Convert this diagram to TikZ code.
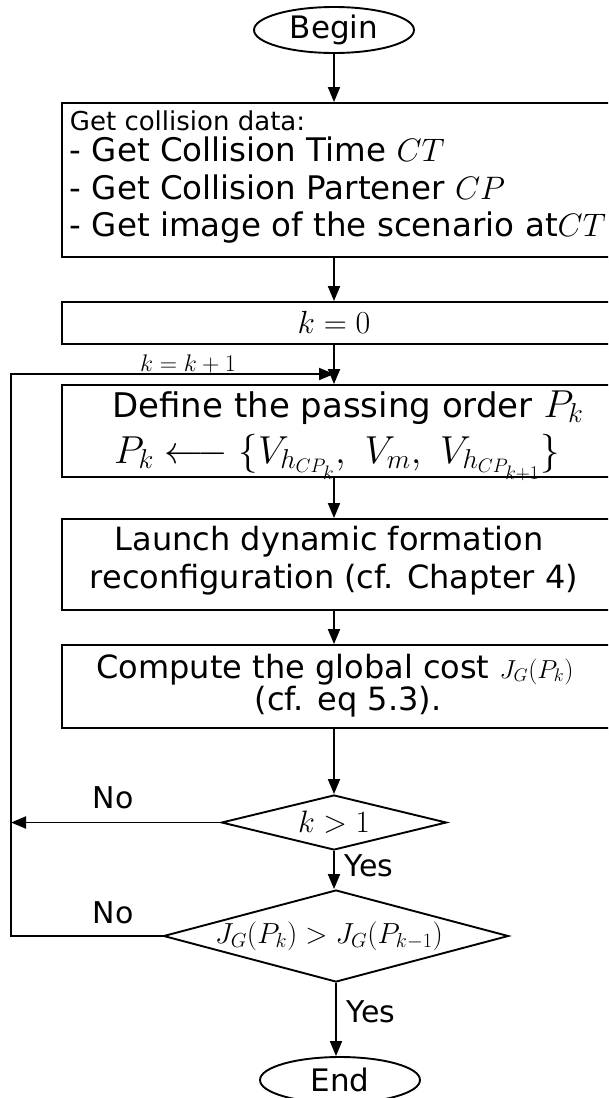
\RequirePackage{fix-cm}
\documentclass[tikz,border=0pt]{standalone}
\usepackage[no-math]{fontspec}
\setmainfont{DejaVu Sans}
\usetikzlibrary{shapes.geometric,arrows.meta}
\newcommand{\fsz}[2]{\fontsize{#1pt}{#2pt}\selectfont}
\begin{document}
\begin{tikzpicture}[x=1pt,y=-1pt,
  line width=1.9pt,
  box/.style={draw, rectangle, line width=1.9pt, inner sep=0pt, minimum width=558pt},
  term/.style={draw, ellipse, inner sep=0pt, minimum width=160pt, minimum height=46pt, font=\fsz{31}{36}},
  dec/.style={draw, diamond, inner sep=0pt, aspect=4},
  arr/.style={-{Triangle[length=15pt,width=12pt]}, line width=1.9pt},
  txt/.style={inner sep=0pt, anchor=base, font=\fsz{32}{38}},
  ltxt/.style={inner sep=0pt, anchor=base west, font=\fsz{32.5}{38}},
  lbl/.style={inner sep=0pt, font=\fsz{30}{36}}]
\useasboundingbox (0,0) rectangle (608,1098);
\clip (0,0) rectangle (608,1098);
\fill[white] (0,0) rectangle (608,1098);

% terminals
\node[term] (begin) at (334,30) {Begin};
\node[term] (end) at (340,1080) {End};

% boxes
\node[box, minimum height=154pt] (box1) at (341,180) {};
\node[box, minimum height=42pt] (box2) at (341,323) {};
\node[box, minimum height=92pt] (box3) at (341,431) {};
\node[box, minimum height=91pt] (box4) at (341,564.5) {};
\node[box, minimum height=83pt] (box5) at (341,686.5) {};

% box texts
\node[ltxt, font=\fsz{26}{30}] (t1a) at (69,130) {Get collision data:};
\node[ltxt] (t1b) at (69,161) {- Get Collision Time $CT$};
\node[ltxt] (t1c) at (69,199) {- Get Collision Partener $CP$};
\node[ltxt] (t1d) at (69,236) {- Get image of the scenario at$CT$};

\node[txt, font=\fsz{32}{38}] (t2) at (334,333) {$k=0$};

\node[txt, font=\fsz{34}{40}] (t3a) at (348,417) {Define the passing order {\fsz{39}{46}$P_k$}};
\node[txt, font=\fsz{39}{46}] (t3b) at (337,463) {$P_k \longleftarrow \{V_{h_{CP_k}},\ V_m,\ V_{h_{CP_{k+1}}}\}$};

\node[txt] (t4a) at (329,550) {Launch dynamic formation};
\node[txt] (t4b) at (334,588) {reconfiguration (cf. Chapter 4)};

\node[txt] (t5a) at (335,678) {Compute the global cost {\fsz{26}{30}$J_G(P_k)$}};
\node[txt] (t5b) at (348,710) {(cf. eq 5.3).};

% decisions
\node[dec, minimum width=225pt, minimum height=55pt, font=\fsz{31}{36}] (d1) at (334,822.5) {$k>1$};
\node[dec, minimum width=345pt, minimum height=92pt] (d2) at (336,936) {};
\node[inner sep=0pt, font=\fsz{29}{34}] (t6) at (329,936) {$J_G(P_k) > J_G(P_{k-1})$};

% loop coordinate
\coordinate (L) at (11,374);

% connectors
\draw[arr] (begin.south) -- (begin.south |- box1.north);
\draw[arr] (box1.south -| begin) -- (box2.north -| begin);
\draw[arr] (box2.south -| begin) -- (box3.north -| begin);
\draw[arr] (box3.south -| begin) -- (box4.north -| begin);
\draw[arr] (box4.south -| begin) -- (box5.north -| begin);
\draw[arr] (box5.south -| d1) -- (d1.north);
\draw[arr] (d1.south) -- (d1.south |- d2.north);
\draw[arr] (d2.south) -- (d2.south |- end.north);
\draw[arr] (d1.west) -- (d1.west -| L);
\draw[arr] (d2.west) -- (d2.west -| L) -- (L) -- (L -| begin);

% labels
\node[inner sep=0pt, anchor=base, font=\fsz{24}{28}] (lk) at (188,371) {$k=k+1$};
\node[lbl] (no1) at (113,798) {No};
\node[lbl] (no2) at (113,913) {No};
\node[lbl] (yes1) at (369,866) {Yes};
\node[lbl] (yes2) at (371,1012) {Yes};
\end{tikzpicture}
\end{document}
